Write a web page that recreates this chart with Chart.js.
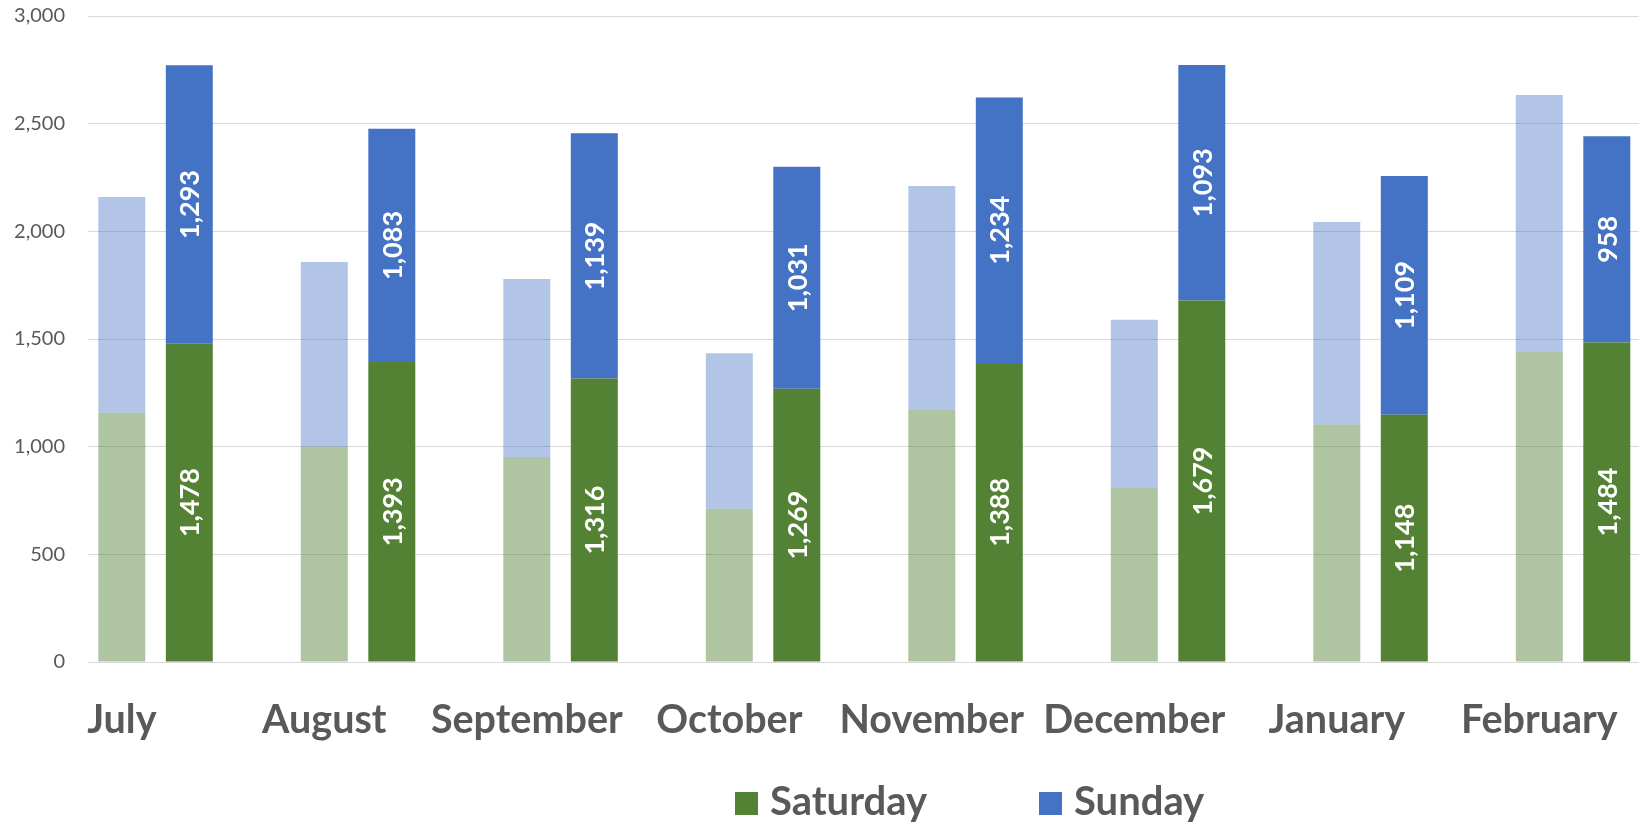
<!DOCTYPE html>
<html><head><meta charset="utf-8">
<script src="https://cdn.jsdelivr.net/npm/chart.js@4"></script>
<style>html,body{margin:0;padding:0;background:#fff;overflow:hidden}#wrap{width:1639px;height:822px}</style>
</head><body><div id="wrap"><canvas id="c" width="1639" height="822"></canvas></div>
<script>
const months = ['July','August','September','October','November','December','January','February'];
const prevSaturday = [1158, 1000, 952, 712, 1172, 810, 1103, 1442];
const prevSunday   = [1001, 858, 827, 722, 1039, 779, 940, 1191];
const curSaturday  = [1478, 1393, 1316, 1269, 1388, 1679, 1148, 1484];
const curSunday    = [1293, 1083, 1139, 1031, 1234, 1093, 1109, 958];
const yTicks = [0, 500, 1000, 1500, 2000, 2500, 3000];

const pts = arr => arr.map((v, i) => ({x: i, y: v}));
const fmt = v => v.toLocaleString('en-US');
const TEXT = '#595959';

const valueLabels = {
  id: 'valueLabels',
  afterDatasetsDraw(chart) {
    const ctx = chart.ctx;
    chart.data.datasets.forEach((ds, di) => {
      if (!ds.showValues) return;
      const meta = chart.getDatasetMeta(di);
      meta.data.forEach((bar, i) => {
        const p = bar.getProps(['x', 'y', 'base'], true);
        ctx.save();
        ctx.translate(p.x, (p.y + p.base) / 2);
        ctx.rotate(-Math.PI / 2);
        ctx.font = 'bold 27px Lato';
        ctx.fillStyle = '#ffffff';
        ctx.textAlign = 'center';
        ctx.textBaseline = 'middle';
        ctx.fillText(fmt(ds.data[i].y), 0, 1);
        ctx.restore();
      });
    });
  }
};

const customLegend = {
  id: 'customLegend',
  afterDraw(chart) {
    const ctx = chart.ctx;
    const items = chart.data.datasets.filter(d => d.inLegend);
    const boxX = [735, 1039];
    ctx.save();
    items.forEach((d, k) => {
      ctx.fillStyle = d.backgroundColor;
      ctx.fillRect(boxX[k], 792, 23, 23);
      ctx.font = 'bold 40px Lato';
      ctx.fillStyle = TEXT;
      ctx.textAlign = 'left';
      ctx.textBaseline = 'middle';
      ctx.fillText(d.label, boxX[k] + 35, 802);
    });
    ctx.restore();
  }
};

function build() {
  new Chart(document.getElementById('c'), {
    type: 'bar',
    data: {
      datasets: [
        {label: 'Saturday (previous)', data: pts(prevSaturday), stack: 'prev', backgroundColor: 'rgba(84,130,53,0.47)'},
        {label: 'Sunday (previous)', data: pts(prevSunday), stack: 'prev', backgroundColor: 'rgba(68,114,196,0.41)'},
        {label: 'Saturday', data: pts(curSaturday), stack: 'cur', backgroundColor: '#548235', showValues: true, inLegend: true},
        {label: 'Sunday', data: pts(curSunday), stack: 'cur', backgroundColor: '#4472C4', showValues: true, inLegend: true}
      ]
    },
    options: {
      responsive: false,
      animation: false,
      devicePixelRatio: 1,
      categoryPercentage: 0.6667,
      barPercentage: 0.696,
      layout: {padding: {top: 16, right: 0, bottom: 0, left: 0}},
      plugins: {legend: {display: false}, tooltip: {enabled: false}},
      scales: {
        x: {
          type: 'linear',
          offset: false,
          min: -0.3336,
          max: 7.3257,
          grid: {display: false, offset: false},
          border: {display: false},
          afterBuildTicks: s => { s.ticks = months.map((_, i) => ({value: i})); },
          afterFit: s => { s.height = 160; s.paddingLeft = 0; s.paddingRight = 0; },
          ticks: {
            autoSkip: false,
            maxRotation: 0,
            padding: 27,
            labelOffset: -33.75,
            color: TEXT,
            font: {family: 'Lato', size: 39.5, weight: 'bold'},
            callback: v => months[v] ?? ''
          }
        },
        y: {
          stacked: true,
          min: 0,
          max: 3000,
          afterBuildTicks: s => { s.ticks = yTicks.map(v => ({value: v})); },
          afterFit: s => { s.width = 88; s.paddingTop = 0; s.paddingBottom = 0; },
          grid: {color: '#D9D9D9', lineWidth: 1, drawTicks: false},
          border: {display: false},
          ticks: {
            padding: 23,
            color: TEXT,
            font: {family: 'Lato', size: 20},
            callback: v => fmt(v)
          }
        }
      }
    },
    plugins: [valueLabels, customLegend]
  });
}
Promise.all([
  document.fonts.load('bold 40px Lato'),
  document.fonts.load('20px Lato')
]).then(build, build);
</script>
</body></html>
